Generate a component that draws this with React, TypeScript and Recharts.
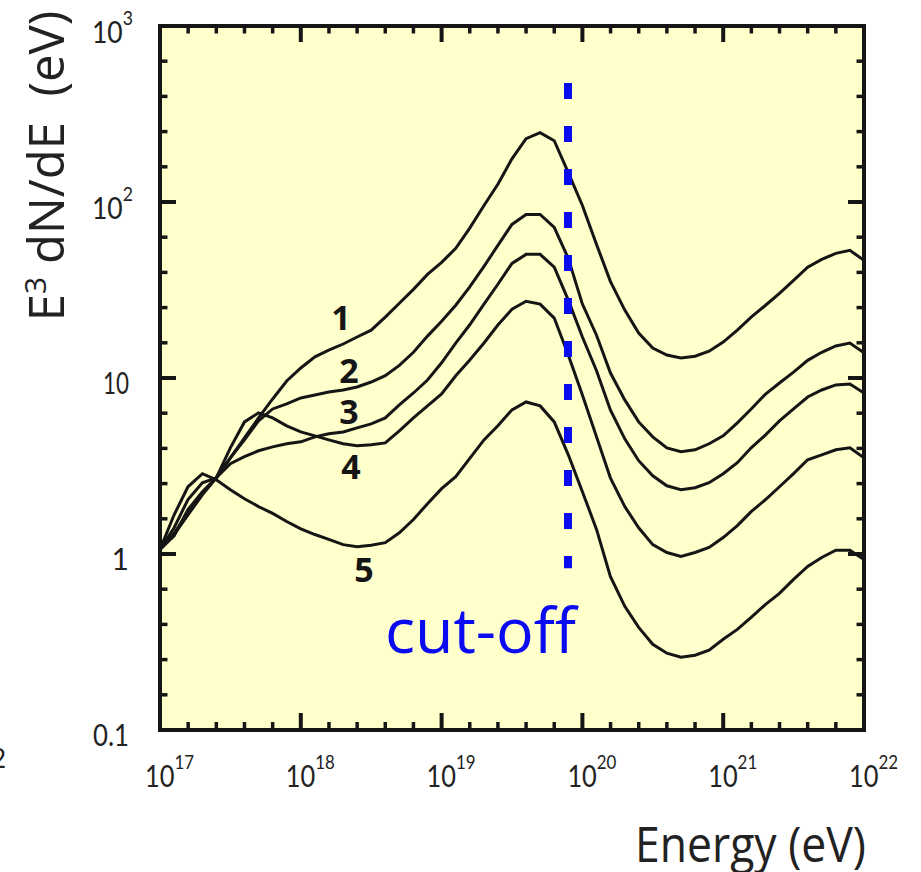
import React from 'react'
import { LineChart, Line, XAxis, YAxis, CartesianGrid, ReferenceLine } from 'recharts'

// energy grid (eV), 0.1 decade steps
const energy = [
  1e17, 1.26e17, 1.58e17, 2.0e17, 2.51e17, 3.16e17, 3.98e17, 5.01e17, 6.31e17, 7.94e17,
  1e18, 1.26e18, 1.58e18, 2.0e18, 2.51e18, 3.16e18, 3.98e18, 5.01e18, 6.31e18, 7.94e18,
  1e19, 1.26e19, 1.58e19, 2.0e19, 2.51e19, 3.16e19, 3.98e19, 5.01e19, 6.31e19, 7.94e19,
  1e20, 1.26e20, 1.58e20, 2.0e20, 2.51e20, 3.16e20, 3.98e20, 5.01e20, 6.31e20, 7.94e20,
  1e21, 1.26e21, 1.58e21, 2.0e21, 2.51e21, 3.16e21, 3.98e21, 5.01e21, 6.31e21, 7.94e21,
  1e22,
]

const curve1 = [
  1.06, 1.29, 1.67, 2.17, 2.71, 3.52, 4.57, 5.93, 7.6, 9.62,
  11.4, 13.2, 14.4, 15.6, 17.1, 18.7, 22.2, 26.6, 31.9, 38.8,
  45.4, 54.5, 70.8, 95.5, 126, 176, 229, 248, 223, 147,
  95.5, 57.4, 35.4, 24.3, 18.0, 14.8, 13.5, 13.0, 13.3, 14.2,
  16.0, 18.7, 22.2, 25.9, 30.3, 35.9, 42.6, 47.2, 51.1, 53.1,
  46.6,
]
const curve2 = [
  1.06, 1.31, 1.72, 2.23, 2.71, 3.52, 4.45, 5.71, 6.67, 7.12,
  7.7, 8.01, 8.33, 8.55, 8.89, 9.49, 10.3, 11.8, 14.0, 17.3,
  21.0, 25.9, 32.8, 43.1, 56.7, 74.6, 84.9, 84.9, 71.7, 47.8,
  26.3, 17.5, 10.7, 7.51, 5.63, 4.63, 4.01, 3.81, 3.91, 4.23,
  4.69, 5.56, 6.67, 8.11, 9.37, 10.8, 12.6, 14.0, 15.2, 15.8,
  13.9,
]
const curve3 = [
  1.06, 1.27, 1.79, 2.26, 2.71, 3.26, 3.57, 3.86, 4.06, 4.23,
  4.34, 4.63, 4.82, 4.94, 5.21, 5.49, 5.93, 7.03, 8.22, 9.74,
  12.2, 15.8, 20.0, 26.3, 34.1, 44.8, 50.4, 50.4, 42.6, 27.7,
  17.1, 11.0, 6.59, 4.51, 3.39, 2.78, 2.44, 2.32, 2.38, 2.54,
  2.86, 3.3, 4.01, 4.75, 5.71, 6.67, 7.8, 8.55, 9.13, 9.25,
  8.22,
]
const curve4 = [
  1.06, 1.41, 2.04, 2.54, 2.71, 4.01, 5.63, 6.34, 5.93, 5.35,
  4.94, 4.69, 4.45, 4.23, 4.12, 4.17, 4.28, 5.01, 5.93, 6.94,
  8.11, 10.3, 12.6, 15.8, 20.0, 24.6, 27.3, 26.3, 21.9, 13.5,
  8.01, 4.63, 2.71, 1.86, 1.41, 1.13, 1.02, 0.968, 1.02, 1.09,
  1.24, 1.45, 1.74, 2.04, 2.41, 2.86, 3.43, 3.66, 3.91, 4.01,
  3.52,
]
const curve5 = [
  1.06, 1.67, 2.41, 2.86, 2.64, 2.32, 2.06, 1.86, 1.7, 1.53,
  1.39, 1.29, 1.21, 1.13, 1.1, 1.12, 1.16, 1.32, 1.57, 1.93,
  2.35, 2.75, 3.48, 4.45, 5.35, 6.59, 7.31, 6.94, 5.63, 3.66,
  2.26, 1.38, 0.746, 0.504, 0.383, 0.307, 0.273, 0.259, 0.266, 0.284,
  0.328, 0.373, 0.437, 0.517, 0.597, 0.717, 0.85, 0.955, 1.05, 1.05,
  0.931,
]

const xMajor = [1e17, 1e18, 1e19, 1e20, 1e21, 1e22]
const xSup = ['17', '18', '19', '20', '21', '22']
const yMajor = [0.1, 1, 10, 100, 1000]
const yText = ['0.1', '1', '10', '10', '10']
const ySup = ['', '', '', '2', '3']
const minorSteps = [1.585, 2.512, 3.981, 6.31]

const cutoffEnergy = 7.9e19
const cutoffTop = 474
const cutoffBottom = 0.83

const data = energy.map((e, i) => ({
  e,
  c1: curve1[i],
  c2: curve2[i],
  c3: curve3[i],
  c4: curve4[i],
  c5: curve5[i],
}))

const withMinor = (majors: number[]) => {
  const out: number[] = []
  majors.forEach((m, i) => {
    out.push(m)
    if (i < majors.length - 1) minorSteps.forEach((s) => out.push(m * s))
  })
  return out
}
const xTicks = withMinor(xMajor)
const yTicks = withMinor(yMajor)

const INK = '#151515'
const LABEL = '#222'
const TICK_FONT = 'Lato, "DejaVu Sans", sans-serif'
const TITLE_FONT = '"Open Sans", "DejaVu Sans", sans-serif'

const majorIndex = (list: number[], v: number) => list.findIndex((m) => Math.abs(v / m - 1) < 0.01)

// the reference tick font is tall and narrow, so the labels are squeezed a little
function Power({ x, y, base, exp, width }: { x: number; y: number; base: string; exp: string; width: number }) {
  return (
    <text x={x} y={y} fontFamily={TICK_FONT} fill={LABEL} fontSize={30} textLength={width} lengthAdjust="spacingAndGlyphs">
      {base}
      <tspan fontSize={20} dy={-18}>{exp}</tspan>
    </text>
  )
}

function BottomTick(props: any) {
  const { x, y, payload } = props
  const i = majorIndex(xMajor, payload.value)
  const major = i >= 0
  return (
    <g>
      <line x1={x} x2={x} y1={y} y2={y - (major ? 17 : 8)} stroke={INK} strokeWidth={major ? 4 : 3.5} />
      {major && <Power x={x - 15} y={y + 57} base="10" exp={xSup[i]} width={49} />}
    </g>
  )
}

function TopTick(props: any) {
  const { x, y, payload } = props
  const major = majorIndex(xMajor, payload.value) >= 0
  return <line x1={x} x2={x} y1={y} y2={y + (major ? 16 : 7.5)} stroke={INK} strokeWidth={major ? 4 : 3.5} />
}

function LeftTick(props: any) {
  const { x, y, payload } = props
  const i = majorIndex(yMajor, payload.value)
  const major = i >= 0
  const plain = major ? yText[i] : ''
  const w = plain === '1' ? undefined : plain.length * 13 - (plain.includes('.') ? 3 : 0)
  return (
    <g>
      <line x1={x} x2={x + (major ? 16 : 7.5)} y1={y} y2={y} stroke={INK} strokeWidth={major ? 4 : 3.5} />
      {major &&
        (ySup[i] ? (
          <Power x={x - 68} y={y + 17} base={yText[i]} exp={ySup[i]} width={41} />
        ) : (
          <text
            x={x - 31}
            y={y + 16}
            textAnchor="end"
            fontFamily={TICK_FONT}
            fill={LABEL}
            fontSize={30}
            textLength={w}
            lengthAdjust={w ? 'spacingAndGlyphs' : undefined}
          >
            {plain}
          </text>
        ))}
    </g>
  )
}

function RightTick(props: any) {
  const { x, y, payload } = props
  const major = majorIndex(yMajor, payload.value) >= 0
  return <line x1={x} x2={x - (major ? 16 : 7.5)} y1={y} y2={y} stroke={INK} strokeWidth={major ? 4 : 3.5} />
}

const frame = { stroke: INK, strokeWidth: 4, strokeLinecap: 'square' as const }

export default function App() {
  return (
    <div style={{ position: 'absolute', left: 0, top: 0, width: 921, height: 872, background: '#fff' }}>
      <LineChart width={921} height={872} data={data} margin={{ top: 25, right: 56, bottom: 141, left: 159 }}>
        <CartesianGrid horizontal={false} vertical={false} fill="#ffffcc" fillOpacity={1} />
        <XAxis
          dataKey="e"
          type="number"
          scale="log"
          domain={[1e17, 1e22]}
          allowDataOverflow
          ticks={xTicks}
          interval={0}
          tick={<BottomTick />}
          tickLine={false}
          tickSize={0}
          tickMargin={0}
          height={1}
          axisLine={frame}
        />
        <XAxis
          xAxisId="top"
          orientation="top"
          dataKey="e"
          type="number"
          scale="log"
          domain={[1e17, 1e22]}
          allowDataOverflow
          ticks={xTicks}
          interval={0}
          tick={<TopTick />}
          tickLine={false}
          tickSize={0}
          tickMargin={0}
          height={1}
          axisLine={frame}
        />
        <YAxis
          type="number"
          scale="log"
          domain={[0.1, 1000]}
          allowDataOverflow
          ticks={yTicks}
          interval={0}
          tick={<LeftTick />}
          tickLine={false}
          tickSize={0}
          tickMargin={0}
          width={1}
          axisLine={frame}
        />
        <YAxis
          yAxisId="right"
          orientation="right"
          type="number"
          scale="log"
          domain={[0.1, 1000]}
          allowDataOverflow
          ticks={yTicks}
          interval={0}
          tick={<RightTick />}
          tickLine={false}
          tickSize={0}
          tickMargin={0}
          width={1}
          axisLine={frame}
        />
        {['c1', 'c2', 'c3', 'c4', 'c5'].map((k) => (
          <Line key={k} dataKey={k} type="linear" stroke={INK} strokeWidth={3} dot={false} isAnimationActive={false} />
        ))}
        <ReferenceLine
          segment={[
            { x: cutoffEnergy, y: cutoffTop },
            { x: cutoffEnergy, y: cutoffBottom },
          ]}
          stroke="#0b0bf2"
          strokeWidth={8}
          strokeDasharray="16 27"
          ifOverflow="visible"
        />
      </LineChart>
      <svg width={921} height={872} style={{ position: 'absolute', left: 0, top: 0, pointerEvents: 'none' }}>
        <text
          transform="translate(64,166) rotate(-90)"
          textAnchor="middle"
          fontFamily={TITLE_FONT}
          fontSize={49}
          fill={LABEL}
          style={{ whiteSpace: 'pre' }}
        >
          E<tspan fontSize={30} dy={-18}>3</tspan>
          <tspan dy={18}> dN/dE  (eV)</tspan>
        </text>
        <text
          x={635}
          y={862}
          fontFamily={TITLE_FONT}
          fontSize={50}
          fill={LABEL}
          textLength={231}
          lengthAdjust="spacingAndGlyphs"
        >
          Energy (eV)
        </text>
        <text
          x={385}
          y={653}
          fontFamily={TITLE_FONT}
          fontSize={62}
          fill="#0b0bf2"
          textLength={191}
          lengthAdjust="spacingAndGlyphs"
        >
          cut-off
        </text>
        <g fontFamily={TITLE_FONT} fontWeight="bold" fontSize={34} fill={INK} textAnchor="middle">
          <text x={341} y={330}>1</text>
          <text x={349} y={383}>2</text>
          <text x={349} y={424}>3</text>
          <text x={351} y={479}>4</text>
          <text x={364} y={582}>5</text>
        </g>
        <text x={-9} y={768} fontFamily={TICK_FONT} fontSize={26} fill={LABEL}>2</text>
      </svg>
    </div>
  )
}
